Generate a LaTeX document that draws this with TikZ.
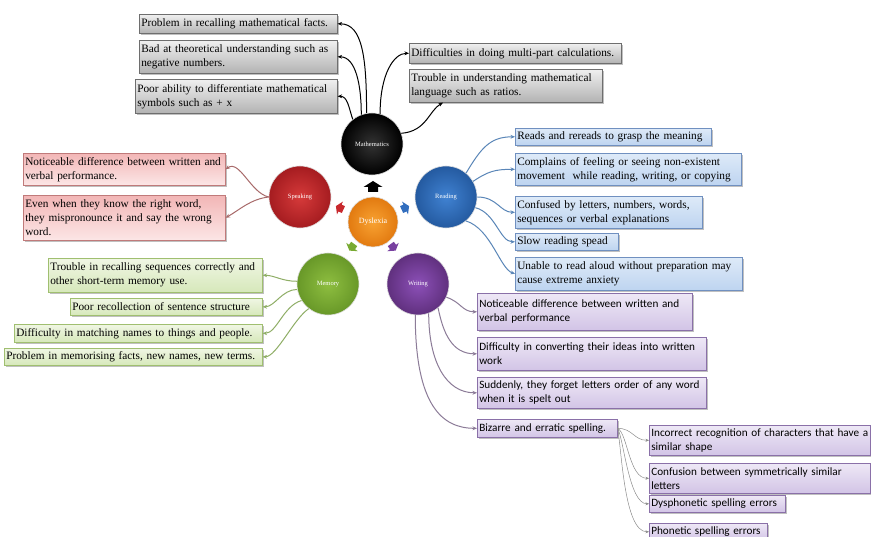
\documentclass[tikz,border=0pt]{standalone}
\usepackage{fontspec}
\setmainfont{Liberation Serif}
\newfontfamily\calfont{Carlito}
\usetikzlibrary{shadows,calc,arrows.meta}
\definecolor{gbd}{HTML}{6E6E6E}
\definecolor{pbd}{HTML}{C07A7A}
\definecolor{bbd}{HTML}{7090C0}
\definecolor{ebd}{HTML}{A0BF70}
\definecolor{vbd}{HTML}{8A70A8}
\definecolor{sc}{HTML}{A86A6A}
\definecolor{rc}{HTML}{5A86B8}
\definecolor{ec}{HTML}{8FAE66}
\definecolor{wc}{HTML}{8C7C98}
\begin{document}
\begin{tikzpicture}[x=1pt,y=-1pt,
  bx/.style={draw, rectangle, anchor=north west, inner xsep=2pt, inner ysep=0pt, align=left,
    font=\fontsize{11.3}{14}\selectfont, line width=0.6pt,
    drop shadow={shadow xshift=1.3pt, shadow yshift=-1.3pt, opacity=0.35, fill=black!70}},
  gbox/.style={bx, draw=gbd, top color=black!6, bottom color=black!30},
  pbox/.style={bx, draw=pbd, top color={rgb,255:red,242;green,182;blue,182}, bottom color={rgb,255:red,252;green,230;blue,230}},
  bbox/.style={bx, draw=bbd, top color={rgb,255:red,222;green,234;blue,248}, bottom color={rgb,255:red,190;green,212;blue,240}},
  ebox/.style={bx, draw=ebd, top color={rgb,255:red,240;green,246;blue,228}, bottom color={rgb,255:red,214;green,232;blue,186}},
  vbox/.style={bx, draw=vbd, top color={rgb,255:red,238;green,232;blue,246}, bottom color={rgb,255:red,210;green,196;blue,230}, font=\calfont\fontsize{11.2}{14}\selectfont},
  circ/.style={circle, inner sep=0pt, text=white, font=\fontsize{6.5}{7}\selectfont, draw=white!75!gray, line width=0.6pt, minimum size=62pt},
  tip/.style={-{Stealth[length=4.5pt,width=3.8pt]}},
  mconn/.style={tip, draw=black, line width=1pt},
  sconn/.style={tip, draw=sc, line width=1pt},
  rconn/.style={tip, draw=rc, line width=1pt},
  econn/.style={tip, draw=ec, line width=1pt},
  wconn/.style={tip, draw=wc, line width=1pt},
  xconn/.style={-{Stealth[length=3.5pt,width=3pt]}, draw=black!45, line width=0.5pt},
  barrow/.pic={\fill[pic actions] (-5,-5) -- (0,-5) -- (0,-9.5) -- (6,0) -- (0,9.5) -- (0,5) -- (-5,5) -- cycle;}
]
\useasboundingbox (0,0) rectangle (871,537);
\clip (0,0) rectangle (871,537);
\fill[white] (0,0) rectangle (871,537);

% circles
\node[circ, inner color=black!80, outer color=black] (math) at (372,144) {Mathematics};
\node[circ, inner color={rgb,255:red,214;green,58;blue,58}, outer color={rgb,255:red,165;green,28;blue,32}] (speak) at (300,197) {Speaking};
\node[circ, inner color={rgb,255:red,64;green,130;blue,210}, outer color={rgb,255:red,36;green,90;blue,160}] (read) at (446,197) {Reading};
\node[circ, inner color={rgb,255:red,142;green,190;blue,64}, outer color={rgb,255:red,104;green,152;blue,40}] (mem) at (328,284) {Memory};
\node[circ, inner color={rgb,255:red,140;green,80;blue,184}, outer color={rgb,255:red,96;green,48;blue,126}] (writ) at (418,284) {Writing};
\node[circ, minimum size=50pt, inner color={rgb,255:red,248;green,162;blue,50}, outer color={rgb,255:red,226;green,122;blue,16}, font=\fontsize{8}{9}\selectfont] (dys) at (373,222) {Dyslexia};

% block arrows
\pic[fill=black, rotate=90] at (373,187) {barrow};
\pic[fill={rgb,255:red,200;green,40;blue,45}, rotate=155, scale=0.75] at (340,208) {barrow};
\pic[fill={rgb,255:red,50;green,110;blue,190}, rotate=25, scale=0.75] at (405,208) {barrow};
\pic[fill={rgb,255:red,120;green,170;blue,50}, rotate=234, scale=0.75] at (352,247) {barrow};
\pic[fill={rgb,255:red,120;green,64;blue,160}, rotate=-54, scale=0.75] at (393,247) {barrow};

% mathematics boxes
\node[gbox, minimum height=19pt, text width=194pt] (mb1) at (139,14) {Problem in recalling mathematical facts.};
\node[gbox, minimum height=33pt, text width=194pt] (mb2) at (139,40) {Bad at theoretical understanding such as\\negative numbers.};
\node[gbox, minimum height=34pt, text width=198pt] (mb3) at (135,79) {Poor ability to differentiate mathematical\\symbols such as + x};
\node[gbox, minimum height=20pt, text width=208pt] (mb4) at (409,43) {Difficulties in doing multi-part calculations.};
\node[gbox, minimum height=33pt, text width=189pt] (mb5) at (409,69) {Trouble in understanding mathematical\\language such as ratios.};

% speaking boxes
\node[pbox, minimum height=32pt, text width=198pt] (sb1) at (23,153) {Noticeable difference between written and\\verbal performance.};
\node[pbox, minimum height=45pt, text width=198pt] (sb2) at (23,195) {Even when they know the right word,\\they mispronounce it and say the wrong\\word.};

% memory boxes
\node[ebox, minimum height=34pt, text width=210pt] (me1) at (48,258) {Trouble in recalling sequences correctly and\\other short-term memory use.};
\node[ebox, minimum height=17pt, text width=188pt] (me2) at (70,298) {Poor recollection of sentence structure};
\node[ebox, minimum height=18pt, text width=244pt] (me3) at (14,324) {Difficulty in matching names to things and people.};
\node[ebox, minimum height=17pt, text width=254pt] (me4) at (4,348) {Problem in memorising facts, new names, new terms.};

% reading boxes
\node[bbox, minimum height=17pt, text width=192pt] (rb1) at (515,128) {Reads and rereads to grasp the meaning};
\node[bbox, minimum height=32pt, text width=222pt] (rb2) at (515,153) {Complains of feeling or seeing non-existent\\movement\ \ while reading, writing, or copying};
\node[bbox, minimum height=32pt, text width=183pt] (rb3) at (515,196) {Confused by letters, numbers, words,\\sequences or verbal explanations};
\node[bbox, minimum height=17pt, text width=99pt] (rb4) at (515,233) {Slow reading spead};
\node[bbox, minimum height=33pt, text width=223pt] (rb5) at (515,257) {Unable to read aloud without preparation may\\cause extreme anxiety};

% writing boxes
\node[vbox, minimum height=37pt, text width=211pt] (wb1) at (477,293) {Noticeable difference between written and\\verbal performance};
\node[vbox, minimum height=33pt, text width=225pt] (wb2) at (477,337) {Difficulty in converting their ideas into written\\work};
\node[vbox, minimum height=31pt, text width=225pt] (wb3) at (477,377) {Suddenly, they forget letters order of any word\\when it is spelt out};
\node[vbox, minimum height=18pt, text width=136pt] (wb4) at (477,419) {Bizarre and erratic spelling.};

% spelling sub-boxes
\node[vbox, minimum height=30pt, text width=217pt] (xb1) at (649,425) {Incorrect recognition of characters that have a\\similar shape};
\node[vbox, minimum height=30pt, text width=217pt] (xb2) at (649,463) {Confusion between symmetrically similar\\letters};
\node[vbox, minimum height=17pt, text width=132pt] (xb3) at (649,495) {Dysphonetic spelling errors};
\node[vbox, minimum height=17pt, text width=114pt] (xb4) at (649,523) {Phonetic spelling errors};

% mathematics connectors
\draw[mconn] (math.100) .. controls +(0,-55) and +(25,0) .. (mb1.east);
\draw[mconn] (math.110) .. controls +(0,-30) and +(18,0) .. (mb2.east);
\draw[mconn] (math.128) .. controls +(-4,-12) and +(10,0) .. (mb3.east);
\draw[mconn] (math.75) .. controls +(0,-40) and +(-15,0) .. (mb4.west);
\draw[mconn] (math.20) .. controls +(25,-2) and +(-14,8) .. ($(mb5.south west)+(34,0)$);

% speaking connectors
\draw[sconn] (speak.180) .. controls +(-18,-4) and +(14,-10) .. (sb1.east);
\draw[sconn] (speak.180) .. controls +(-18,2) and +(14,-8) .. (sb2.east);

% memory connectors
\draw[econn] (mem.175) .. controls +(-15,0) and +(12,0) .. (me1.east);
\draw[econn] (mem.190) .. controls +(-15,0) and +(12,0) .. (me2.east);
\draw[econn] (mem.212) .. controls +(-18,5) and +(14,0) .. (me3.east);
\draw[econn] (mem.232) .. controls +(-15,10) and +(14,0) .. (me4.east);

% reading connectors
\draw[rconn] (read.50) .. controls +(15,-25) and +(-25,0) .. (rb1.west);
\draw[rconn] (read.30) .. controls +(15,-10) and +(-20,0) .. (rb2.west);
\draw[rconn] (read.0) .. controls +(20,0) and +(-15,0) .. (rb3.west);
\draw[rconn] (read.-20) .. controls +(20,5) and +(-15,0) .. (rb4.west);
\draw[rconn] (read.-50) .. controls +(25,8) and +(-15,-5) .. (rb5.west);

% writing connectors
\draw[wconn] (writ.-25) .. controls +(15,5) and +(-15,0) .. (wb1.west);
\draw[wconn] (writ.-50) .. controls +(5,25) and +(-25,0) .. (wb2.west);
\draw[wconn] (writ.-70) .. controls +(0,50) and +(-30,0) .. (wb3.west);
\draw[wconn] (writ.-95) .. controls +(0,90) and +(-35,0) .. (wb4.west);

% spelling connectors
\draw[xconn] (wb4.east) .. controls +(15,0) and +(-15,0) .. (xb1.west);
\draw[xconn] (wb4.east) .. controls +(10,5) and +(-20,0) .. (xb2.west);
\draw[xconn] (wb4.east) .. controls +(6,10) and +(-20,0) .. (xb3.west);
\draw[xconn] (wb4.east) .. controls +(4,20) and +(-25,0) .. (xb4.west);
\end{tikzpicture}
\end{document}
